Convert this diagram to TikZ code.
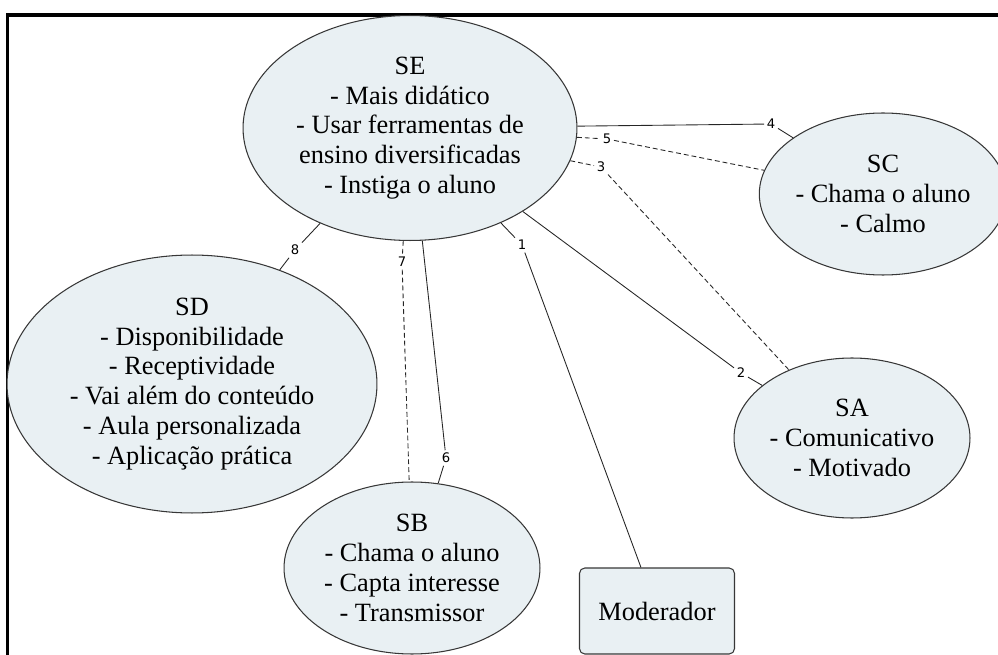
\documentclass[tikz,border=0pt]{standalone}
\usepackage{fontspec}
\setmainfont{Liberation Serif}
\newfontfamily\subfont{Liberation Serif}
\newfontfamily\numfont{DejaVu Sans}
\usetikzlibrary{shapes.geometric}

\begin{document}
\begin{tikzpicture}[x=0.02cm,y=-0.02cm]

\definecolor{subfill}{RGB}{233,240,243}
\definecolor{subline}{RGB}{55,55,55}

\tikzset{sub/.style = {ellipse, draw=subline, fill=subfill, line width=0.6pt, inner sep=0pt, align=center, font=\subfont\fontsize{15}{17}\selectfont}}
\tikzset{modbox/.style = {rectangle, rounded corners=3pt, draw=subline, fill=subfill, line width=0.6pt, minimum width=3.1cm, minimum height=1.72cm, font=\subfont\fontsize{15}{17}\selectfont}}
\tikzset{num/.style = {inner sep=1.4pt, font=\numfont\fontsize{7.5}{8}\selectfont}}
\tikzset{link/.style = {draw=black!85, line width=0.5pt}}
\tikzset{dlink/.style = {link, dash pattern=on 2.8pt off 1.7pt}}

\useasboundingbox (0,0) rectangle (998,655);

% frame
\draw[line width=1.9pt] (7.5,655) -- (7.5,15) -- (998,15);

% groups
\node[sub, minimum width=6.68cm, minimum height=4.5cm] (SE) at (410,128) {SE\\- Mais didático\\- Usar ferramentas de\\ensino diversificadas\\- Instiga o aluno};
\node[sub, minimum width=4.92cm, minimum height=3.24cm] (SC) at (883,194) {SC\\- Chama o aluno\\- Calmo};
\node[sub, minimum width=7.4cm, minimum height=5.16cm] (SD) at (192,384) {SD\\- Disponibilidade\\- Receptividade\\- Vai além do conteúdo\\- Aula personalizada\\- Aplicação prática};
\node[sub, minimum width=4.72cm, minimum height=3.2cm] (SA) at (852,438) {SA\\- Comunicativo\\- Motivado};
\node[sub, minimum width=5.12cm, minimum height=3.44cm] (SB) at (412,568) {SB\\- Chama o aluno\\- Capta interesse\\- Transmissor};
\node[modbox] (Mod) at (657,611) {Moderador};

% numbers
\node[num] (n1) at (522,245) {1};
\node[num] (n2) at (741,373) {2};
\node[num] (n3) at (601,167) {3};
\node[num] (n4) at (771,124) {4};
\node[num] (n5) at (607,139) {5};
\node[num] (n6) at (446,458) {6};
\node[num] (n7) at (402,262) {7};
\node[num] (n8) at (295,250) {8};

% links
\draw[link] (SE) -- (n1) -- (Mod);
\draw[link] (SE) -- (n2) -- (SA);
\draw[dlink] (SE) -- (n3) -- (SA);
\draw[link] (SE) -- (n4) -- (SC);
\draw[dlink] (SE) -- (n5) -- (SC);
\draw[link] (SE) -- (n6) -- (SB);
\draw[dlink] (SE) -- (n7) -- (SB);
\draw[link] (SE) -- (n8) -- (SD);

\end{tikzpicture}
\end{document}
